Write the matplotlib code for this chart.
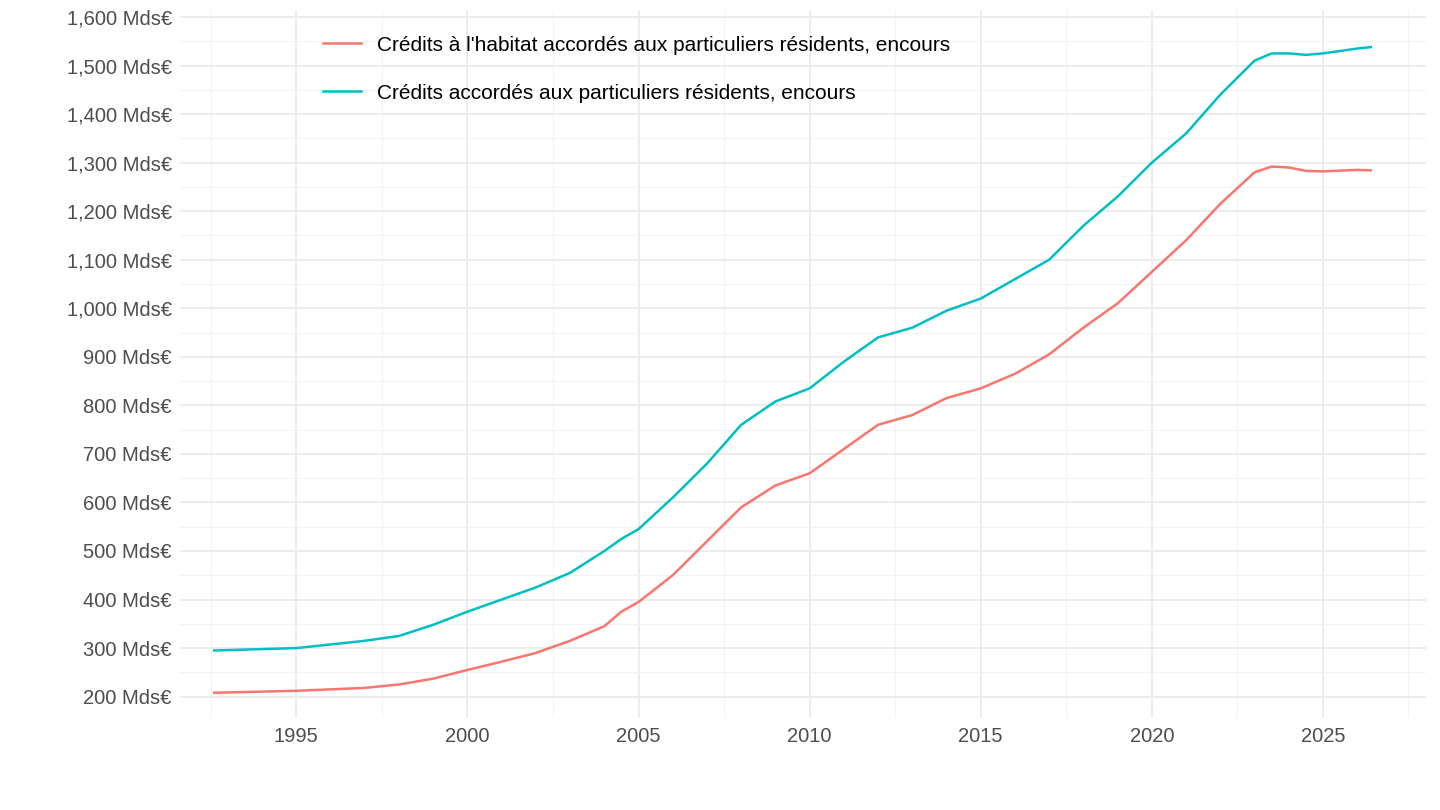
import matplotlib.pyplot as plt
import matplotlib.ticker as mticker

years = [1992.6, 1995, 1997, 1998, 1999, 2000, 2001, 2002, 2003, 2004, 2004.5, 2005,
         2006, 2007, 2008, 2009, 2010, 2011, 2012, 2013, 2014, 2015, 2016, 2017,
         2018, 2019, 2020, 2021, 2022, 2023, 2023.5, 2024, 2024.5, 2025, 2026, 2026.4]
total = [295, 300, 315, 325, 348, 375, 400, 425, 455, 500, 525, 545,
         610, 680, 760, 808, 835, 890, 940, 960, 995, 1020, 1060, 1100,
         1170, 1230, 1300, 1360, 1440, 1510, 1525, 1525, 1522, 1525, 1535, 1538]
habitat = [208, 212, 218, 225, 237, 255, 272, 290, 315, 345, 375, 395,
           450, 520, 590, 635, 660, 710, 760, 780, 815, 835, 865, 905,
           960, 1010, 1075, 1140, 1215, 1280, 1292, 1290, 1283, 1282, 1285, 1284]

plt.rcParams['font.family'] = ['Liberation Sans', 'DejaVu Sans']
fig = plt.figure(figsize=(14.4, 8.1), dpi=100)
ax = fig.add_axes([0.125, 0.113, 0.865, 0.875])

ax.plot(years, habitat, color='#F8766D', lw=1.8,
        label="Crédits à l'habitat accordés aux particuliers résidents, encours")
ax.plot(years, total, color='#00BFC4', lw=1.8,
        label="Crédits accordés aux particuliers résidents, encours")

ax.set_xlim(1991.6, 2028.0)
ax.set_ylim(155, 1615)
ax.xaxis.set_major_locator(mticker.MultipleLocator(5))
ax.xaxis.set_minor_locator(mticker.MultipleLocator(2.5))
ax.yaxis.set_minor_locator(mticker.MultipleLocator(50))
ax.set_yticks(range(200, 1601, 100))
ax.yaxis.set_major_formatter(mticker.FuncFormatter(lambda v, p: f"{int(v):,} Mds€"))
ax.xaxis.set_major_formatter(mticker.FuncFormatter(lambda v, p: f"{int(v)}"))
ax.grid(which='major', color='#EBEBEB', lw=1.3)
ax.grid(which='minor', color='#F3F3F3', lw=0.8)
ax.set_axisbelow(True)
for s in ax.spines.values():
    s.set_visible(False)
ax.tick_params(which='both', length=0, labelsize=14.5, colors='#4D4D4D', pad=6)

ax.legend(loc='upper left', bbox_to_anchor=(0.1, 0.99), frameon=False,
          fontsize=15, handlelength=1.8, labelspacing=1.4)

fig.savefig('out.png')
